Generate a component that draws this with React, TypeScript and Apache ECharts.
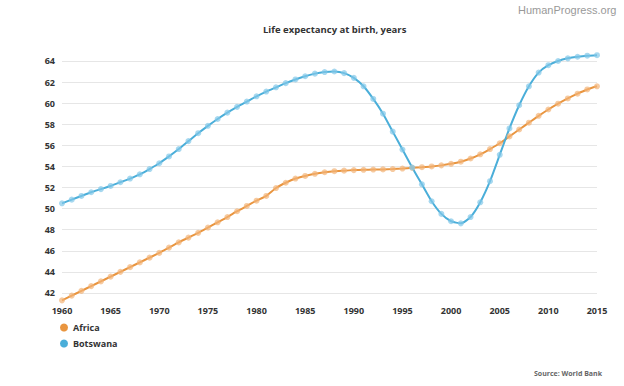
import React, { useEffect, useRef } from "react";
import * as echarts from "echarts";

const years: string[] = [];
for (let y = 1960; y <= 2015; y++) years.push(String(y));

const africa = [
  41.3, 41.75, 42.2, 42.65, 43.1, 43.55, 44.0, 44.45, 44.9, 45.35,
  45.8, 46.3, 46.8, 47.25, 47.7, 48.2, 48.7, 49.2, 49.75, 50.25,
  50.75, 51.2, 51.95, 52.45, 52.85, 53.1, 53.3, 53.45, 53.55, 53.6,
  53.65, 53.68, 53.7, 53.72, 53.75, 53.8, 53.87, 53.93, 54.0, 54.1,
  54.25, 54.45, 54.75, 55.15, 55.65, 56.2, 56.85, 57.5, 58.15, 58.8,
  59.4, 59.95, 60.45, 60.9, 61.3, 61.6,
];

const botswana = [
  50.5, 50.85, 51.2, 51.55, 51.85, 52.15, 52.5, 52.85, 53.25, 53.75,
  54.3, 54.95, 55.65, 56.4, 57.15, 57.85, 58.5, 59.1, 59.65, 60.15,
  60.65, 61.1, 61.5, 61.9, 62.25, 62.55, 62.8, 62.95, 63.0, 62.85,
  62.4, 61.6, 60.4, 59.0, 57.3, 55.6, 53.9, 52.3, 50.7, 49.5,
  48.8, 48.6, 49.2, 50.6, 52.6, 55.1, 57.6, 59.8, 61.6, 62.9,
  63.6, 64.0, 64.25, 64.4, 64.5, 64.55,
];

const seriesNames = ["Africa", "Botswana"];
const colors = ["#e9953f", "#4aaed9"];
const markerColors = ["rgba(242,180,120,0.7)", "rgba(130,200,232,0.7)"];

const titleText = "Life expectancy at birth, years";
const watermark = "HumanProgress.org";
const sourceText = "Source: World Bank";

const FONT = "'Open Sans', 'Noto Sans', sans-serif";

export default function App() {
  const ref = useRef<HTMLDivElement>(null);
  useEffect(() => {
    document.body.style.margin = "0";
    if (!ref.current) return;
    const chart = echarts.init(ref.current, undefined, { renderer: "svg" });
    const data = [africa, botswana];
    chart.setOption({
      animation: false,
      backgroundColor: "#ffffff",
      textStyle: { fontFamily: FONT },
      title: {
        text: titleText,
        left: 258,
        top: 19,
        textStyle: { fontSize: 9.5, fontWeight: "bold", color: "#333", fontFamily: FONT },
      },
      graphic: [
        {
          type: "text",
          left: 518,
          top: 4,
          style: {
            text: watermark,
            fontSize: 11,
            fill: "#999",
            fontFamily: "'Liberation Sans', Arial, sans-serif",
          },
        },
        {
          type: "text",
          right: 22,
          top: 370,
          style: {
            text: sourceText,
            fontSize: 7,
            fontWeight: "bold",
            fill: "#666",
            fontFamily: FONT,
          },
        },
      ],
      legend: {
        orient: "vertical",
        left: 55,
        top: 318,
        icon: "circle",
        itemWidth: 8,
        itemHeight: 8,
        itemGap: 7,
        textStyle: { fontSize: 9, fontWeight: "bold", color: "#333", fontFamily: FONT },
        data: seriesNames.map((n, i) => ({ name: n, itemStyle: { color: colors[i] } })),
      },
      grid: { left: 62, right: 27, top: 53.6, bottom: 84.6, containLabel: false },
      xAxis: {
        type: "category",
        data: years,
        boundaryGap: false,
        axisLine: { show: false },
        axisTick: { show: false },
        splitLine: { show: false },
        axisLabel: {
          interval: 4,
          fontSize: 9,
          fontWeight: "bold",
          color: "#333",
          margin: 5,
          fontFamily: FONT,
        },
      },
      yAxis: {
        type: "value",
        min: 41.2,
        max: 64.7,
        splitNumber: 12,
        axisLine: { show: false },
        axisTick: { show: false },
        axisLabel: {
          showMinLabel: false,
          showMaxLabel: false,
          fontSize: 9,
          fontWeight: "bold",
          color: "#333",
          margin: 7,
          fontFamily: FONT,
        },
        splitLine: {
          show: true,
          showMinLine: false,
          showMaxLine: false,
          lineStyle: { color: "#e6e6e6", width: 1 },
        },
      },
      series: seriesNames.map((n, i) => ({
        name: n,
        type: "line",
        data: data[i],
        smooth: 0.2,
        symbol: "circle",
        symbolSize: 6,
        showSymbol: true,
        z: 2,
        lineStyle: { color: colors[i], width: 2 },
        itemStyle: { color: markerColors[i], borderWidth: 0 },
        emphasis: { disabled: true },
      })),
    });
    return () => chart.dispose();
  }, []);
  return <div ref={ref} style={{ width: 624, height: 386 }} />;
}
